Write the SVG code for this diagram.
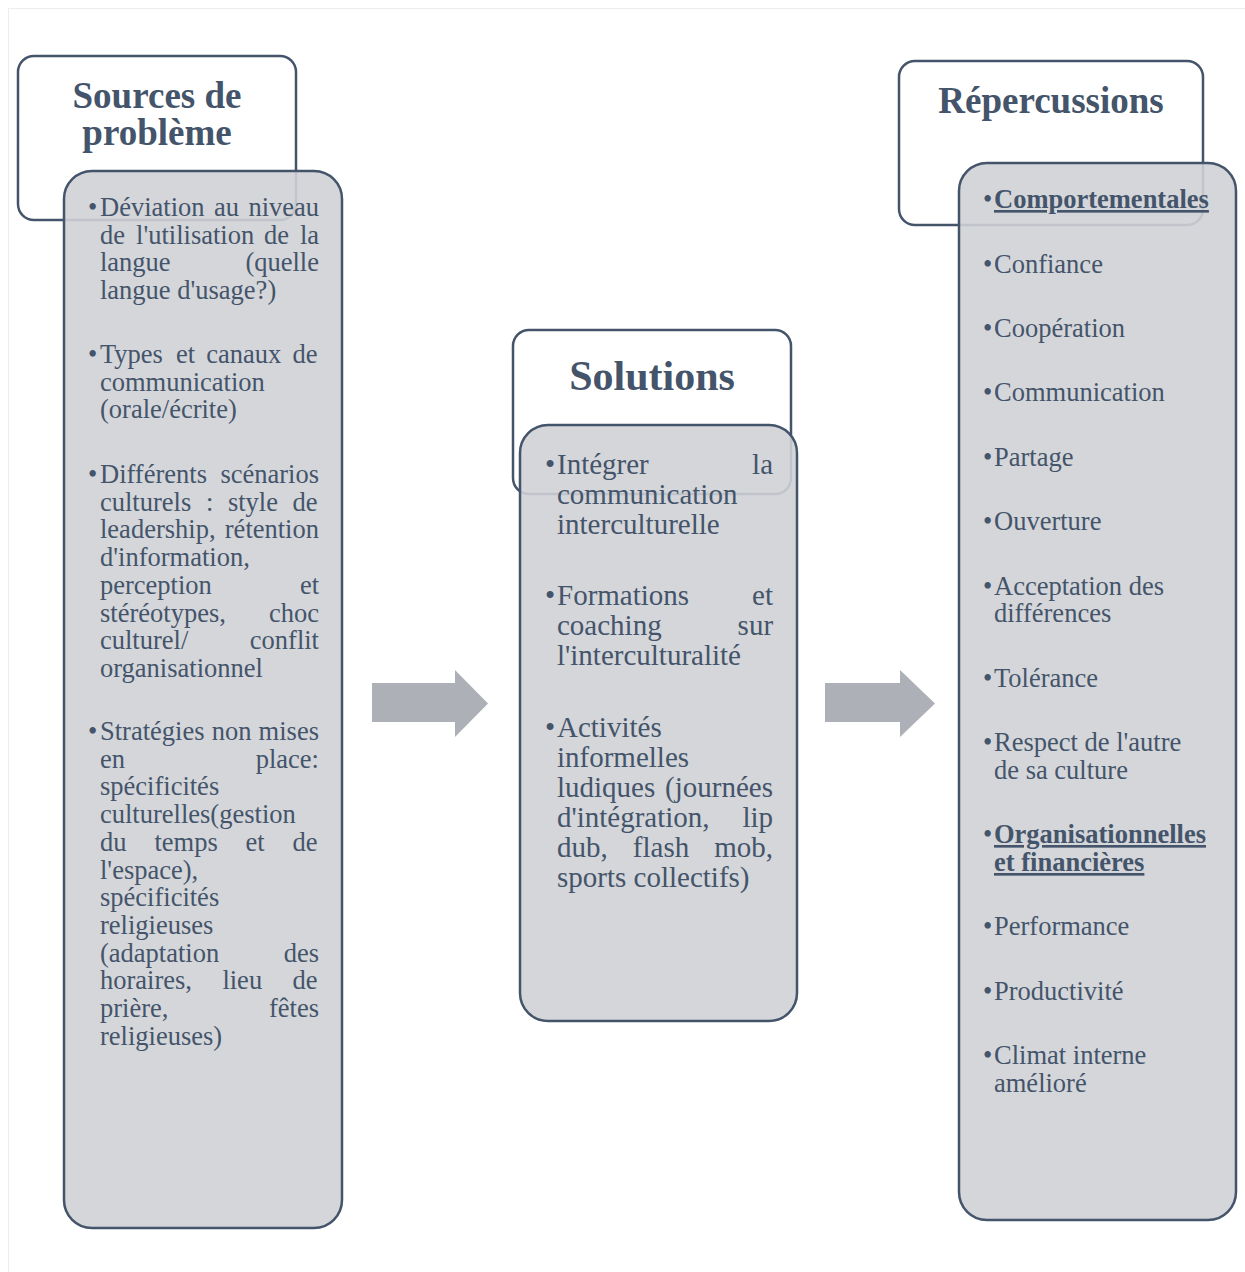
<svg xmlns="http://www.w3.org/2000/svg" width="1245" height="1272" viewBox="0 0 1245 1272">
<style>
.hdr{fill:#ffffff;stroke:#44546A;stroke-width:2.5}
.box{fill:#CFD1D6;fill-opacity:0.9;stroke:#44546A;stroke-width:2.5}
.ttl{font-family:"Liberation Serif","Times New Roman",serif;font-weight:bold;fill:#44546A;text-anchor:middle}
.t{font-family:"Liberation Serif","Times New Roman",serif;font-size:26.5px;fill:#44546A}
.m{font-family:"Liberation Serif","Times New Roman",serif;font-size:29px;fill:#44546A}
.b{font-weight:bold;text-decoration:underline}
.arr{fill:#ADB0B6}
</style>
<rect x="8.5" y="8.5" width="1240" height="1270" fill="none" stroke="#EDEDED" stroke-width="1"/>

<g id="sources">
<rect class="hdr" x="18" y="56" width="278" height="164" rx="16"/>
<text class="ttl" font-size="37" x="157" y="108">Sources de</text>
<text class="ttl" font-size="37" x="157" y="145">problème</text>
<rect class="box" x="64" y="171" width="278" height="1057" rx="28"/>
<g class="t">
<text x="88" y="216">•</text>
<text y="216"><tspan x="100">Déviation</tspan><tspan x="213.9">au</tspan><tspan x="248.4">niveau</tspan></text>
<text y="244"><tspan x="100">de</tspan><tspan x="136.1">l'utilisation</tspan><tspan x="263.9">de</tspan><tspan x="299.9">la</tspan></text>
<text y="271"><tspan x="100">langue</tspan><tspan x="245.4">(quelle</tspan></text>
<text x="100" y="299">langue d'usage?)</text>

<text x="88" y="363">•</text>
<text y="363"><tspan x="100">Types</tspan><tspan x="176">et</tspan><tspan x="206.3">canaux</tspan><tspan x="292.5">de</tspan></text>
<text x="100" y="391">communication</text>
<text x="100" y="418">(orale/écrite)</text>

<text x="88" y="483">•</text>
<text y="483"><tspan x="100">Différents</tspan><tspan x="220.4">scénarios</tspan></text>
<text y="510.7"><tspan x="100">culturels</tspan><tspan x="205.9">:</tspan><tspan x="227.9">style</tspan><tspan x="292.5">de</tspan></text>
<text y="538.4"><tspan x="100">leadership,</tspan><tspan x="224.8">rétention</tspan></text>
<text x="100" y="566.1">d'information,</text>
<text y="593.8"><tspan x="100">perception</tspan><tspan x="299.9">et</tspan></text>
<text y="621.5"><tspan x="100">stéréotypes,</tspan><tspan x="269">choc</tspan></text>
<text y="649.2"><tspan x="100">culturel/</tspan><tspan x="249.8">conflit</tspan></text>
<text x="100" y="676.9">organisationnel</text>

<text x="88" y="740">•</text>
<text y="740"><tspan x="100">Stratégies</tspan><tspan x="211.7">non</tspan><tspan x="258.6">mises</tspan></text>
<text y="767.7"><tspan x="100">en</tspan><tspan x="255.7">place:</tspan></text>
<text x="100" y="795.4">spécificités</text>
<text x="100" y="823.1">culturelles(gestion</text>
<text y="850.8"><tspan x="100">du</tspan><tspan x="154.4">temps</tspan><tspan x="245.6">et</tspan><tspan x="292.5">de</tspan></text>
<text x="100" y="878.5">l'espace),</text>
<text x="100" y="906.2">spécificités</text>
<text x="100" y="933.9">religieuses</text>
<text y="961.6"><tspan x="100">(adaptation</tspan><tspan x="283.7">des</tspan></text>
<text y="989.3"><tspan x="100">horaires,</tspan><tspan x="222.4">lieu</tspan><tspan x="292.5">de</tspan></text>
<text y="1017"><tspan x="100">prière,</tspan><tspan x="269">fêtes</tspan></text>
<text x="100" y="1044.7">religieuses)</text>
</g>
</g>

<g id="solutions">
<rect class="hdr" x="513" y="330" width="278" height="164" rx="16"/>
<text class="ttl" font-size="42" x="652" y="390">Solutions</text>
<rect class="box" x="520" y="425" width="277" height="596" rx="28"/>
<g class="m">
<text x="545" y="474">•</text>
<text y="474"><tspan x="557">Intégrer</tspan><tspan x="752.1">la</tspan></text>
<text x="557" y="504">communication</text>
<text x="557" y="534">interculturelle</text>

<text x="545" y="605">•</text>
<text y="605"><tspan x="557">Formations</tspan><tspan x="752.1">et</tspan></text>
<text y="635"><tspan x="557">coaching</tspan><tspan x="737.6">sur</tspan></text>
<text x="557" y="665">l'interculturalité</text>

<text x="545" y="737">•</text>
<text x="557" y="737">Activités</text>
<text x="557" y="767">informelles</text>
<text y="797"><tspan x="557">ludiques</tspan><tspan x="665.1">(journées</tspan></text>
<text y="827"><tspan x="557">d'intégration,</tspan><tspan x="742.4">lip</tspan></text>
<text y="857"><tspan x="557">dub,</tspan><tspan x="632.8">flash</tspan><tspan x="714.2">mob,</tspan></text>
<text x="557" y="887">sports collectifs)</text>
</g>
</g>

<g id="repercussions">
<rect class="hdr" x="899" y="61" width="304" height="164" rx="16"/>
<text class="ttl" font-size="37" x="1051" y="113">Répercussions</text>
<rect class="box" x="959" y="163" width="277" height="1057" rx="28"/>
<g class="t">
<text x="983" y="208">•</text><text class="b" x="994" y="208">Comportementales</text>
<text x="983" y="273">•</text><text x="994" y="273">Confiance</text>
<text x="983" y="337">•</text><text x="994" y="337">Coopération</text>
<text x="983" y="401">•</text><text x="994" y="401">Communication</text>
<text x="983" y="466">•</text><text x="994" y="466">Partage</text>
<text x="983" y="530">•</text><text x="994" y="530">Ouverture</text>
<text x="983" y="595">•</text><text x="994" y="595">Acceptation des</text>
<text x="994" y="622">différences</text>
<text x="983" y="687">•</text><text x="994" y="687">Tolérance</text>
<text x="983" y="751">•</text><text x="994" y="751">Respect de l'autre</text>
<text x="994" y="779">de sa culture</text>
<text x="983" y="843">•</text><text class="b" x="994" y="843">Organisationnelles</text>
<text class="b" x="994" y="871">et financières</text>
<text x="983" y="935">•</text><text x="994" y="935">Performance</text>
<text x="983" y="1000">•</text><text x="994" y="1000">Productivité</text>
<text x="983" y="1064">•</text><text x="994" y="1064">Climat interne</text>
<text x="994" y="1092">amélioré</text>
</g>
</g>

<g id="connectors">
<polygon class="arr" points="372,683 455,683 455,670 488,703.5 455,737 455,722 372,722"/>
<polygon class="arr" points="825,683 900,683 900,670 935,703.5 900,737 900,722 825,722"/>
</g>
</svg>
